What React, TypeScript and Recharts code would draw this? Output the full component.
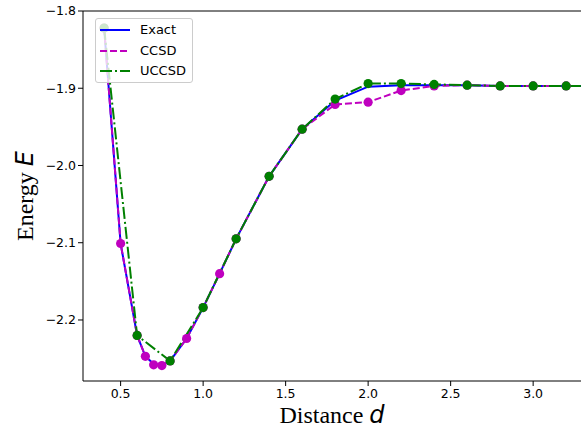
import { LineChart, Line, XAxis, YAxis, Legend, ReferenceLine } from 'recharts';

// distances (x) for Exact and CCSD
const distances = [0.4, 0.5, 0.6, 0.65, 0.7, 0.75, 0.8, 0.9, 1.0, 1.1, 1.2, 1.4, 1.6, 1.8, 2.0, 2.2, 2.4, 2.6, 2.8, 3.0, 3.2, 3.4];
const exactE = [-1.822, -2.101, -2.22, -2.247, -2.257, -2.259, -2.253, -2.224, -2.184, -2.14, -2.095, -2.014, -1.953, -1.916, -1.898, -1.896, -1.896, -1.896, -1.897, -1.897, -1.897, -1.897];
const ccsdE = [-1.822, -2.101, -2.22, -2.247, -2.258, -2.259, -2.253, -2.224, -2.184, -2.14, -2.095, -2.014, -1.953, -1.921, -1.918, -1.903, -1.897, -1.896, -1.897, -1.897, -1.897, -1.897];

// UCCSD only on the coarse grid
const uccsdDistances = [0.4, 0.6, 0.8, 1.0, 1.2, 1.4, 1.6, 1.8, 2.0, 2.2, 2.4, 2.6, 2.8, 3.0, 3.2, 3.4];
const uccsdE = [-1.822, -2.22, -2.253, -2.184, -2.095, -2.014, -1.953, -1.914, -1.894, -1.894, -1.895, -1.896, -1.897, -1.897, -1.897, -1.897];

const xTicks = [0.5, 1.0, 1.5, 2.0, 2.5, 3.0];
const yTicks = [-1.8, -1.9, -2.0, -2.1, -2.2];

const exactData = distances.map((x, i) => ({ x, e: exactE[i] }));
const ccsdData = distances.map((x, i) => ({ x, e: ccsdE[i] }));
const uccsdData = uccsdDistances.map((x, i) => ({ x, e: uccsdE[i] }));

const BLUE = '#0000ff';
const MAGENTA = '#bf00bf';
const GREEN = '#008000';

const DASH = '7 3';
const DASHDOT = '12 3 2 3';

const tickStyle = { fontFamily: 'DejaVu Sans', fontSize: 12.5, fill: '#000' };

const legendItems = [
  { name: 'Exact', color: BLUE, dash: undefined },
  { name: 'CCSD', color: MAGENTA, dash: DASH },
  { name: 'UCCSD', color: GREEN, dash: DASHDOT },
];

function LegendBox() {
  return (
    <div
      style={{
        width: 98,
        height: 65,
        boxSizing: 'border-box',
        border: '1px solid #cccccc',
        borderRadius: 3,
        background: 'rgba(255,255,255,0.8)',
        position: 'relative',
        fontFamily: 'DejaVu Sans',
        fontSize: 13,
      }}
    >
      {legendItems.map((it, i) => (
        <div key={it.name} style={{ position: 'absolute', left: 3, top: 3 + i * 20.5, height: 16, display: 'flex', alignItems: 'center' }}>
          <svg width={32} height={16}>
            <line x1={1} y1={8} x2={31} y2={8} stroke={it.color} strokeWidth={2} strokeDasharray={it.dash} />
          </svg>
          <span style={{ marginLeft: 9, lineHeight: '16px' }}>{it.name}</span>
        </div>
      ))}
    </div>
  );
}

const XLabel = (props: any) => {
  const vb = props.viewBox || {};
  const cx = (vb.x ?? 83) + (vb.width ?? 498) / 2;
  return (
    <text x={cx} y={423} textAnchor="middle" fill="#000">
      <tspan fontFamily="Liberation Serif" fontSize={24}>Distance </tspan>
      <tspan fontFamily="DejaVu Sans" fontStyle="italic" fontSize={24}>d</tspan>
    </text>
  );
};

const YLabel = (props: any) => {
  const vb = props.viewBox || {};
  const cy = (vb.y ?? 11) + (vb.height ?? 370) / 2;
  return (
    <text x={0} y={0} transform={`translate(33, ${cy}) rotate(-90)`} textAnchor="middle" fill="#000">
      <tspan fontFamily="Liberation Serif" fontSize={24}>Energy </tspan>
      <tspan fontFamily="DejaVu Sans" fontStyle="italic" fontSize={24}>E</tspan>
    </text>
  );
};

export default function App() {
  return (
    <div style={{ position: 'absolute', left: 0, top: 0, background: '#fff' }}>
      <LineChart width={581} height={428} margin={{ top: 11, right: 0, bottom: 0, left: 0 }}>
        <XAxis
          type="number"
          dataKey="x"
          domain={[0.272, 3.29]}
          allowDataOverflow
          ticks={xTicks}
          tickFormatter={(v: number) => v.toFixed(1)}
          tick={tickStyle}
          tickSize={5}
          tickMargin={3}
          stroke="#000"
          height={47}
          label={<XLabel />}
        />
        <YAxis
          type="number"
          dataKey="e"
          domain={[-2.279, -1.8]}
          allowDataOverflow
          ticks={yTicks}
          tickFormatter={(v: number) => v.toFixed(1).replace('-', '\u2212')}
          tick={tickStyle}
          tickSize={5}
          tickMargin={2}
          stroke="#000"
          width={83}
          label={<YLabel />}
        />
        <ReferenceLine y={-1.8} stroke="#000" strokeWidth={1} />
        <Line data={exactData} dataKey="e" name="Exact" stroke={BLUE} strokeWidth={2} dot={false} isAnimationActive={false} />
        <Line
          data={ccsdData}
          dataKey="e"
          name="CCSD"
          stroke={MAGENTA}
          strokeWidth={2}
          strokeDasharray={DASH}
          dot={{ r: 4.6, fill: MAGENTA, stroke: 'none', strokeDasharray: '' }}
          isAnimationActive={false}
        />
        <Line
          data={uccsdData}
          dataKey="e"
          name="UCCSD"
          stroke={GREEN}
          strokeWidth={2}
          strokeDasharray={DASHDOT}
          dot={{ r: 4.6, fill: GREEN, stroke: 'none', strokeDasharray: '' }}
          isAnimationActive={false}
        />
        <Legend
          layout="horizontal"
          verticalAlign="middle"
          align="center"
          content={<LegendBox />}
          wrapperStyle={{ left: 95, top: 18, width: 98, height: 65 }}
        />
      </LineChart>
    </div>
  );
}
